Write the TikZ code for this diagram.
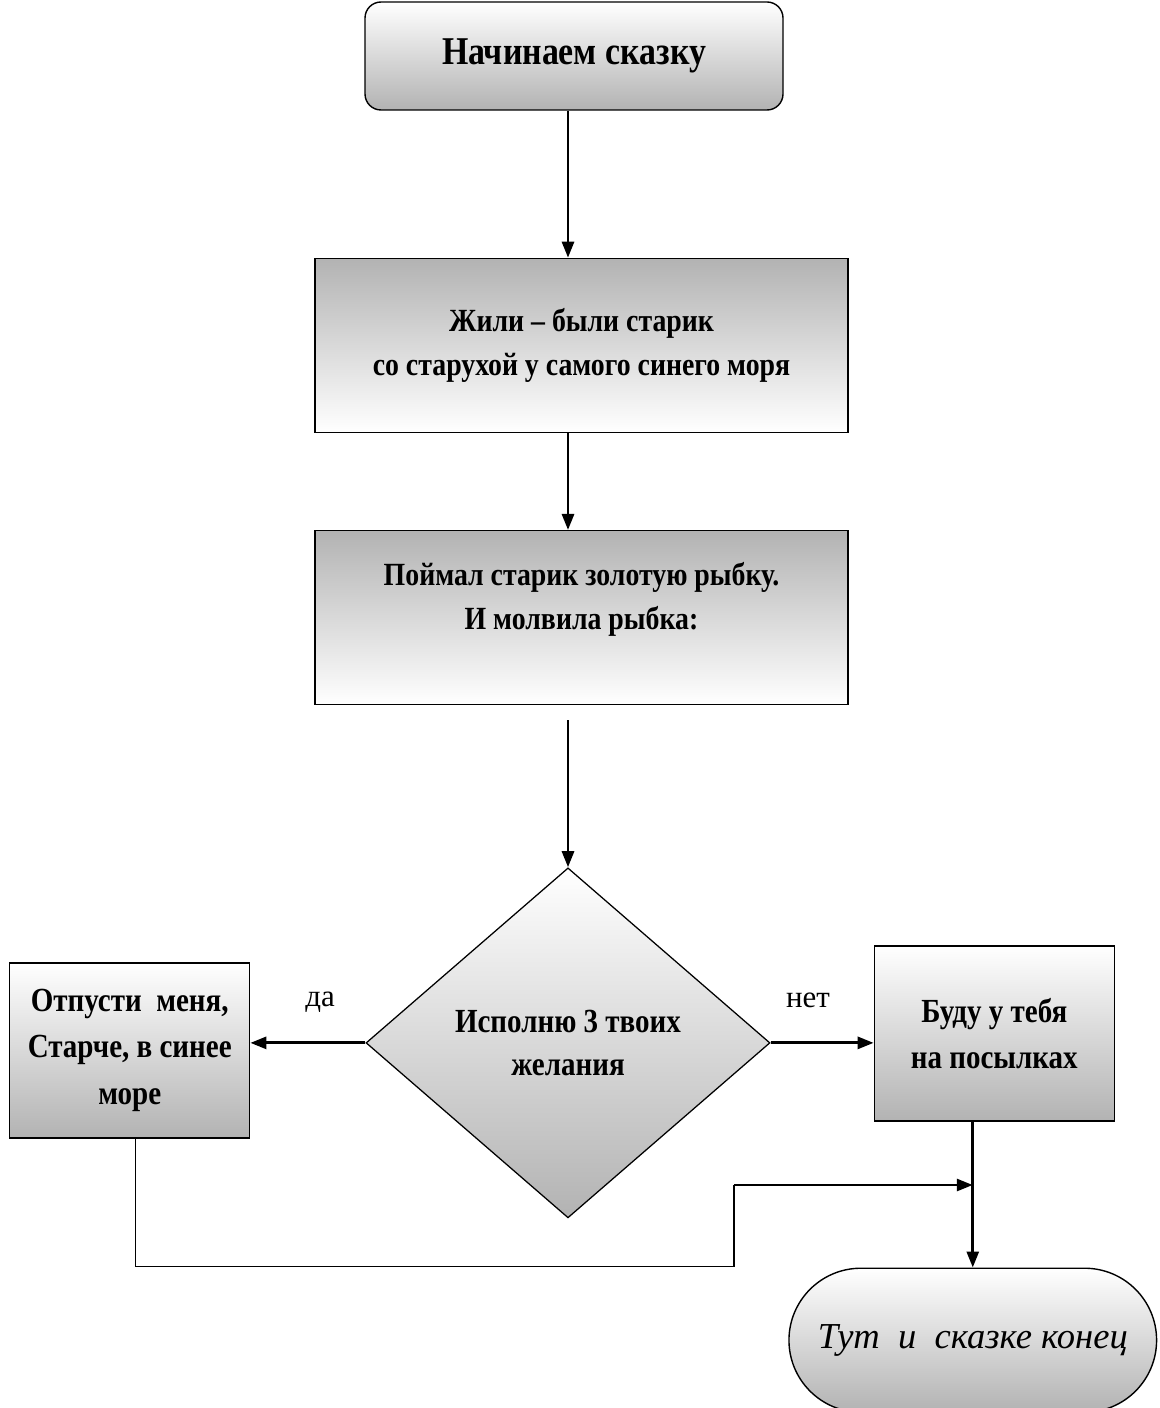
\documentclass[tikz,border=0pt]{standalone}
\usepackage{fontspec}
\setmainfont{Liberation Serif}[FakeStretch=0.86]
\newfontfamily\plainfont{Liberation Serif}
\usetikzlibrary{arrows.meta, positioning, shapes.geometric, shapes.misc}
\definecolor{shade}{gray}{0.7}

\begin{document}
\begin{tikzpicture}[
    every node/.style={font=\fontsize{23}{31}\selectfont\bfseries},
    box/.style={rectangle, draw=black, line width=0.9pt, minimum width=13.325cm, minimum height=4.35cm, align=center, top color=shade, bottom color=white},
    startbox/.style={rectangle, rounded corners=0.4cm, draw=black, line width=1pt, minimum width=10.45cm, minimum height=2.7cm, align=center, top color=white, bottom color=shade, font=\fontsize{28}{32}\selectfont\bfseries},
    sidebox/.style={rectangle, draw=black, line width=0.9pt, minimum width=6cm, minimum height=4.375cm, align=center, top color=white, bottom color=shade, font=\fontsize{24}{33}\selectfont\bfseries},
    decision/.style={diamond, draw=black, line width=0.9pt, minimum width=10.1cm, minimum height=8.75cm, inner sep=0pt, align=center, top color=white, bottom color=shade, font=\fontsize{24}{31}\selectfont\bfseries},
    endbox/.style={rounded rectangle, draw=black, line width=1pt, minimum width=9.425cm, minimum height=3.6cm, top color=white, bottom color=shade, font=\plainfont\fontsize{26}{30}\selectfont\itshape},
    lbl/.style={font=\plainfont\fontsize{22}{26}\selectfont},
    arrow/.style={-{Triangle[length=0.4cm, width=0.3cm]}, line width=2pt},
    link/.style={line width=0.8pt}
]
\useasboundingbox (0,0) rectangle (28.975,-35.2);

\node[startbox] (start) at (14.35,-1.4) {Начинаем сказку};
\node[box, below=3.675cm of start, xshift=0.1875cm] (old) {Жили -- были старик\\ со старухой у самого синего моря};
\node[box, below=2.425cm of old] (fish) {Поймал старик золотую рыбку.\\ И молвила рыбка:\\ \mbox{}};
\node[decision, below=4.05cm of fish, xshift=-0.3375cm] (dec) {Исполню 3 твоих\\ желания};
\node[sidebox, left=2.875cm of dec, yshift=-0.1875cm] (free) {Отпусти~ меня,\\ Старче, в синее\\ море};
\node[sidebox, right=2.575cm of dec, yshift=0.2375cm] (serve) {Буду у тебя\\ на посылках};
\node[endbox, below=3.65cm of serve, xshift=-0.5375cm] (end) {Тут~ и~ сказке конец};

\node[lbl] (yes) at (8.0,-25.05) {да};
\node[lbl] (no) at (20.2,-25.0) {нет};

\draw[arrow] (start.south -| dec.north) -- (old.north -| dec.north);
\draw[arrow] (old.south -| dec.north) -- (fish.north -| dec.north);
\draw[arrow, shorten <=0.375cm] (fish.south -| dec.north) -- (dec.north);
\draw[arrow] (dec.west) -- (dec.west -| free.east);
\draw[arrow] (dec.east) -- (dec.east -| serve.west);
\draw[arrow] (serve.south -| end.north) -- (end.north);

% return line from the left box
\coordinate (jog) at (18.35,-29.625);
\draw[link] ([xshift=0.1375cm]free.south) -- ++(0,-3.2) -| (jog);
\draw[arrow] (jog) -- (jog -| end.north);

\end{tikzpicture}
\end{document}
